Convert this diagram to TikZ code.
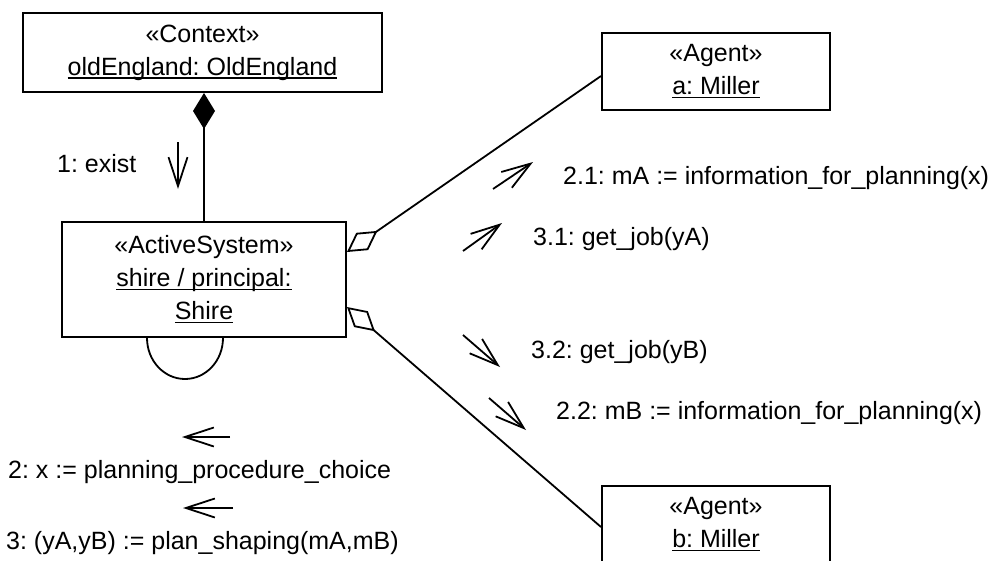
\documentclass[tikz,border=0pt]{standalone}
\usepackage{fontspec}
\setmainfont{Liberation Sans}
\usetikzlibrary{arrows.meta,calc}
% underlined object name, rule set just below the baseline
\newcommand{\undl}[1]{\setbox0\hbox{#1}\rlap{\vrule width\wd0 height -2pt depth 3.6pt}\box0}
\frenchspacing
\begin{document}
\begin{tikzpicture}[x=1pt,y=-1pt,
  font=\fontsize{25}{33}\selectfont,
  obj/.style={draw,line width=2pt,align=center,inner sep=0pt},
  link/.style={line width=1.8pt},
  msg/.style={line width=1.8pt,-{Straight Barb[length=29pt,width=19pt,line width=1.8pt]}},
  lbl/.style={anchor=base west,inner sep=0pt}]
\useasboundingbox (0,0) rectangle (1002,560);

% objects
\node[obj,minimum width=359pt,minimum height=79pt] (ctx) at (202.5,52.5)
  {«Context»\\\undl{oldEngland: OldEngland}};
\node[obj,minimum width=284pt,minimum height=115pt] (sys) at (204,279.5)
  {«ActiveSystem»\\\undl{shire / principal:}\\\undl{Shire}};
\node[obj,minimum width=228pt,minimum height=77pt] (ma) at (716,71.5)
  {«Agent»\\\undl{a: Miller}};
\node[obj,minimum width=228pt,minimum height=77pt] (mb) at (716,524.5)
  {«Agent»\\\undl{b: Miller}};

% links
\draw[link,-{Diamond[length=36pt,width=22pt]}] (sys.north) -- (sys.north |- ctx.south);
\draw[link,{Diamond[open,length=37pt,width=21pt]}-] ([yshift=27.5pt]sys.east) -- ([yshift=-4.5pt]ma.west);
\draw[link,{Diamond[open,length=37pt,width=21pt]}-] ([yshift=-27.5pt]sys.east) -- ([yshift=-2.5pt]mb.west);
\draw[link] ([xshift=-57pt]sys.south) arc[start angle=180,end angle=0,x radius=38,y radius=41];

% messages
\node[lbl] (l1)  at (57,172)  {1: exist};
\node[lbl] (l21) at (563,184) {2.1: mA := information\_for\_planning(x)};
\node[lbl] (l31) at (533,245) {3.1: get\_job(yA)};
\node[lbl] (l32) at (531,358) {3.2: get\_job(yB)};
\node[lbl] (l22) at (556,419) {2.2: mB := information\_for\_planning(x)};
\node[lbl] (l2)  at (8,478)   {2: x := planning\_procedure\_choice};
\node[lbl] (l3)  at (6,549)   {3: (yA,yB) := plan\_shaping(mA,mB)};

\coordinate (a1s) at (178,142); \coordinate (a1e) at (178,189);
\coordinate (a21s) at (493,189); \coordinate (a21e) at (533,162);
\coordinate (a31s) at (463,251); \coordinate (a31e) at (502,223);
\coordinate (a32s) at (463,335); \coordinate (a32e) at (500,367);
\coordinate (a22s) at (489,398); \coordinate (a22e) at (526,430);
\coordinate (a2s) at (230,437); \coordinate (a2e) at (182,437);
\coordinate (a3s) at (233,508); \coordinate (a3e) at (183,508);
\foreach \m in {1,21,31,32,22,2,3} \draw[msg] (a\m s) -- (a\m e);
\end{tikzpicture}
\end{document}
